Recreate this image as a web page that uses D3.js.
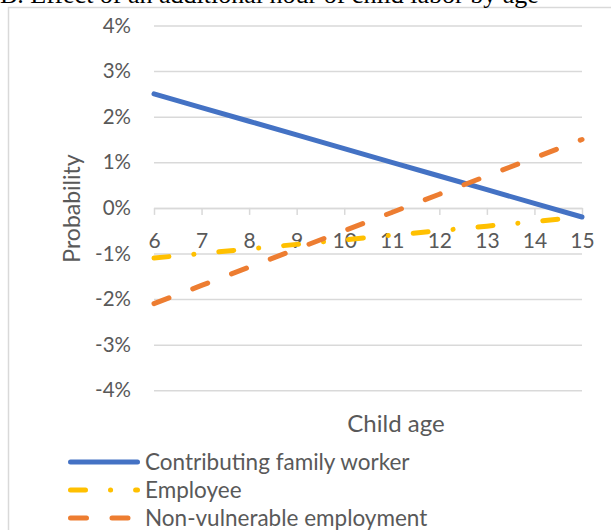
<!DOCTYPE html>
<html>
<head>
<meta charset="utf-8">
<script src="https://cdn.jsdelivr.net/npm/d3@7"></script>
<style>
  html, body { margin: 0; padding: 0; background: #fff; }
  svg { display: block; }
  text { font-family: Lato, "Open Sans", sans-serif; fill: #595959; }
</style>
</head>
<body>
<svg id="chart" width="611" height="530"></svg>
<script>
const titleText = "B. Effect of an additional hour of child labor by age";
const ages = [6, 7, 8, 9, 10, 11, 12, 13, 14, 15];
const familyWorker = [2.5, 2.2, 1.9, 1.6, 1.3, 1.0, 0.7, 0.4, 0.1, -0.2];
const employee = [-1.1, -1.0, -0.9, -0.8, -0.7, -0.6, -0.5, -0.4, -0.3, -0.2];
const nonVulnerable = [-2.1, -1.7, -1.3, -0.9, -0.5, -0.1, 0.3, 0.7, 1.1, 1.5];
const yTicks = [-4, -3, -2, -1, 0, 1, 2, 3, 4];
const seriesNames = ["Contributing family worker", "Employee", "Non-vulnerable employment"];
const seriesColors = ["#4472C4", "#FFC000", "#ED7D31"];
const seriesDash = [null, "15 25 0.1 25", "16 25.5"];

const svg = d3.select("#chart");

// outer chart border
svg.append("rect")
  .attr("x", 8.5).attr("y", 7.5)
  .attr("width", 700).attr("height", 600)
  .attr("fill", "none").attr("stroke", "#d9d9d9").attr("stroke-width", 1.5);

// title (mostly cut off at top)
svg.append("text")
  .attr("x", 0).attr("y", 2.5)
  .style("font-family", "'Liberation Serif', 'Times New Roman', serif")
  .style("font-size", "26px")
  .style("fill", "#000")
  .text(titleText);

const x = d3.scaleLinear().domain([6, 15]).range([154, 582]);
const y = d3.scaleLinear().domain([-4, 4]).range([390.3, 25.5]);

// y gridlines + labels
const yAxis = svg.append("g")
  .attr("transform", `translate(${x(6)},0)`)
  .call(d3.axisLeft(y).tickValues(yTicks)
    .tickSize(-(x(15) - x(6)))
    .tickPadding(23)
    .tickFormat(d => d + "%"));
yAxis.select(".domain").remove();
yAxis.selectAll(".tick line").attr("stroke", "#d9d9d9").attr("stroke-width", 1.5);
yAxis.selectAll(".tick text")
  .style("font-family", "Lato, sans-serif").style("font-size", "20.5px").attr("fill", "#595959");

// x axis at 0
const xAxis = svg.append("g")
  .attr("transform", `translate(0,${y(0)})`)
  .call(d3.axisBottom(x).tickValues(ages).tickSize(7).tickPadding(18).tickSizeOuter(0));
xAxis.select(".domain").attr("stroke", "#d9d9d9").attr("stroke-width", 1.5);
xAxis.selectAll(".tick line").attr("stroke", "#d9d9d9").attr("stroke-width", 1.5);
xAxis.selectAll(".tick text")
  .style("font-family", "Lato, sans-serif").style("font-size", "21px").attr("fill", "#595959");

// series lines
const seriesData = [familyWorker, employee, nonVulnerable];
const line = d3.line().x((d, i) => x(ages[i])).y(d => y(d));
seriesData.forEach((vals, k) => {
  const p = svg.append("path")
    .datum(vals)
    .attr("d", line)
    .attr("fill", "none")
    .attr("stroke", seriesColors[k])
    .attr("stroke-width", 5)
    .attr("stroke-linecap", "round")
    .attr("stroke-linejoin", "round");
  if (seriesDash[k]) p.attr("stroke-dasharray", seriesDash[k]);
});

// axis titles
svg.append("text")
  .attr("transform", "translate(80,208.5) rotate(-90)")
  .attr("text-anchor", "middle")
  .style("font-size", "23px")
  .text("Probability");
svg.append("text")
  .attr("x", 396).attr("y", 432)
  .attr("text-anchor", "middle")
  .style("font-size", "24px")
  .text("Child age");

// legend
const legend = svg.append("g");
seriesNames.forEach((name, k) => {
  const ly = 462 + k * 28;
  const clipId = "lc" + k;
  legend.append("clipPath").attr("id", clipId)
    .append("rect").attr("x", 66).attr("y", ly - 6).attr("width", 74).attr("height", 12);
  const l = legend.append("line")
    .attr("x1", 70.5).attr("x2", 137.5).attr("y1", ly).attr("y2", ly)
    .attr("stroke", seriesColors[k]).attr("stroke-width", 5)
    .attr("stroke-linecap", "round")
    .attr("clip-path", `url(#${clipId})`);
  if (seriesDash[k]) l.attr("stroke-dasharray", seriesDash[k]);
  legend.append("text")
    .attr("x", 145).attr("y", ly)
    .attr("dy", "0.35em")
    .style("font-size", "22.5px")
    .text(name);
});
</script>
</body>
</html>
